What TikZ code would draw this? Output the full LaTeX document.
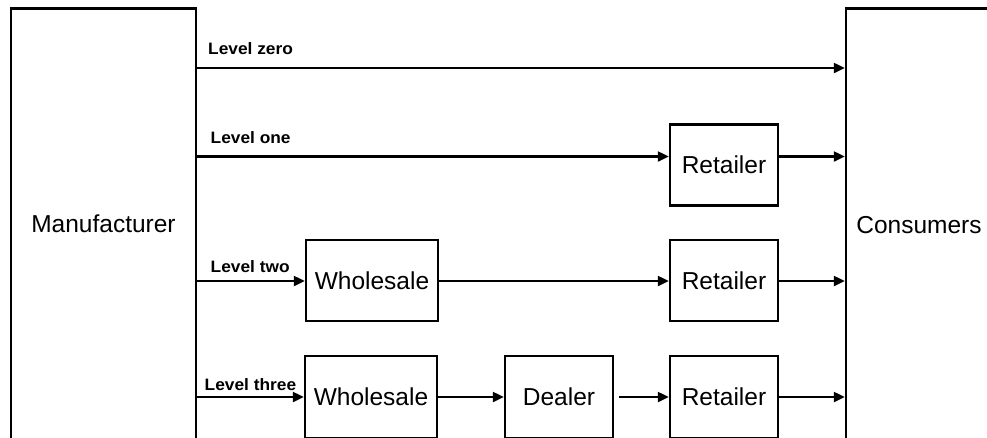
\documentclass[tikz,border=0pt]{standalone}
\usepackage{fontspec}
\setmainfont{Liberation Sans}
\newfontfamily\lblfont{Liberation Sans}[FakeStretch=1.05]
\usetikzlibrary{arrows.meta}
\tikzset{
  boxnode/.style={draw, line width=2.4pt, inner sep=0pt, align=center,
    font=\fontsize{24.5pt}{28pt}\selectfont},
  arr/.style={line width=2.2pt, -{Triangle[length=11pt,width=10pt]}},
  lvl/.style={anchor=base west, inner sep=0pt,
    font=\lblfont\bfseries\fontsize{16.5pt}{19pt}\selectfont}
}
\begin{document}
\begin{tikzpicture}[x=1pt,y=-1pt]
\useasboundingbox (0,0) rectangle (987,437);
\fill[white] (0,0) rectangle (987,437);
\clip (0,0) rectangle (987,437);
% main boxes
\node[boxnode, minimum width=185pt, minimum height=431pt] (mfr) at (103.5,224) {Manufacturer};
\node[boxnode, minimum width=146pt, minimum height=433pt] (cons) at (919,225) {Consumers};
% level one
\node[boxnode, minimum width=108pt, minimum height=81pt] (r1) at (724,165) {Retailer};
% level two
\node[boxnode, minimum width=132pt, minimum height=81pt] (w2) at (372,280.5) {Wholesale};
\node[boxnode, minimum width=108pt, minimum height=81pt] (r2) at (724,280.5) {Retailer};
% level three
\node[boxnode, minimum width=132pt, minimum height=82pt] (w3) at (371,397) {Wholesale};
\node[boxnode, minimum width=108pt, minimum height=82pt] (d3) at (559,397) {Dealer};
\node[boxnode, minimum width=108pt, minimum height=82pt] (r3) at (724,397) {Retailer};
% row coordinates
\coordinate (y0) at (0,68);
\coordinate (y1) at (0,156.5);
\coordinate (y2) at (0,281);
\coordinate (y3) at (0,397);
% arrows
\draw[arr] (mfr.east |- y0) -- (cons.west |- y0);
\draw[arr] (mfr.east |- y1) -- (r1.west |- y1);
\draw[arr] (r1.east |- y1) -- (cons.west |- y1);
\draw[arr] (mfr.east |- y2) -- (w2.west |- y2);
\draw[arr] (w2.east |- y2) -- (r2.west |- y2);
\draw[arr] (r2.east |- y2) -- (cons.west |- y2);
\draw[arr] (mfr.east |- y3) -- (w3.west |- y3);
\draw[arr] (w3.east |- y3) -- (d3.west |- y3);
\draw[arr, shorten <=5pt] (d3.east |- y3) -- (r3.west |- y3);
\draw[arr] (r3.east |- y3) -- (cons.west |- y3);
% labels
\node[lvl] (l0) at (208,54) {Level zero};
\node[lvl] (l1) at (210.5,143) {Level one};
\node[lvl] (l2) at (210.5,272) {Level two};
\node[lvl] (l3) at (204.5,390) {Level three};
\end{tikzpicture}
\end{document}
